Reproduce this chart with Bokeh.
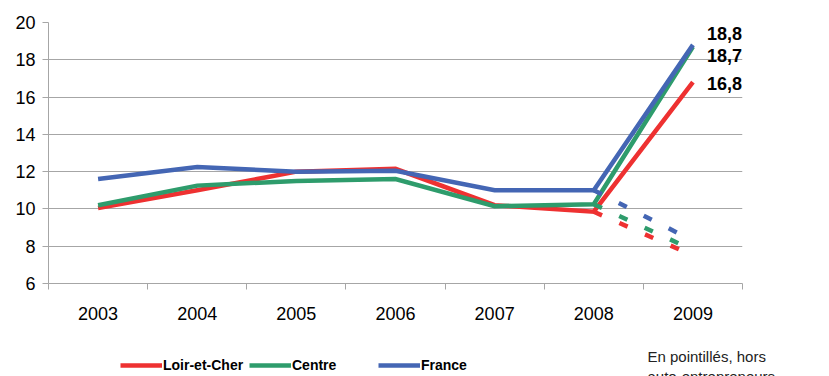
from bokeh.plotting import figure
from bokeh.models import (FixedTicker, Legend, LegendItem, Label, ColumnDataSource,
                          Range1d)
from bokeh.layouts import column
from bokeh.embed import file_html
from bokeh.resources import INLINE
from bokeh.core.properties import value

# ---- data ----
years = [2003, 2004, 2005, 2006, 2007, 2008, 2009]
year_labels = ["2003", "2004", "2005", "2006", "2007", "2008", "2009"]
loir_et_cher = [10.05, 11.0, 12.0, 12.15, 10.2, 9.85, 16.8]
centre = [10.2, 11.25, 11.5, 11.6, 10.15, 10.25, 18.7]
france = [11.6, 12.25, 12.0, 12.05, 11.0, 11.0, 18.8]
# dotted: hors auto-entrepreneurs
dash_years = [2008, 2009]
loir_hors = [9.85, 7.5]
centre_hors = [10.25, 7.8]
france_hors = [11.0, 8.3]
series_names = ["Loir-et-Cher", "Centre", "France"]
y_ticks = [6, 8, 10, 12, 14, 16, 18, 20]
note_lines = ["En pointillés, hors", "auto-entrepreneurs"]

RED = "#EE3131"
GREEN = "#2E9C6C"
BLUE = "#4466B4"
GRID = "#A6A6A6"
FONT = "Liberation Sans"

p = figure(width=829, height=330, output_backend="svg", toolbar_location=None,
           x_range=Range1d(years[0] - 0.5, years[-1] + 0.5),
           y_range=Range1d(y_ticks[0], y_ticks[-1]),
           min_border_left=48, min_border_right=87, min_border_top=22,
           min_border_bottom=47)
p.frame_align = False
p.outline_line_color = None
p.background_fill_color = "white"

# x axis
p.xaxis.ticker = FixedTicker(ticks=years,
                             minor_ticks=[y - 0.5 for y in years] + [years[-1] + 0.5])
p.xaxis.major_label_overrides = {y: l for y, l in zip(years, year_labels)}
p.xaxis.major_tick_in = 0
p.xaxis.major_tick_out = 0
p.xaxis.minor_tick_in = 0
p.xaxis.minor_tick_out = 6
p.xaxis.minor_tick_line_color = GRID
p.xaxis.axis_line_color = GRID
p.xaxis.major_label_standoff = 17
p.xaxis.major_label_text_font = FONT
p.xaxis.major_label_text_font_size = "18px"
p.xaxis.major_label_text_color = "black"

# y axis
p.yaxis.ticker = FixedTicker(ticks=y_ticks, minor_ticks=[])
p.yaxis.major_tick_in = 0
p.yaxis.major_tick_out = 6
p.yaxis.major_tick_line_color = GRID
p.yaxis.minor_tick_out = 0
p.yaxis.axis_line_color = GRID
p.yaxis.major_label_standoff = 7
p.yaxis.major_label_text_font = FONT
p.yaxis.major_label_text_font_size = "18px"
p.yaxis.major_label_text_color = "black"

p.xgrid.visible = False
p.ygrid.ticker = FixedTicker(ticks=y_ticks)
p.ygrid.grid_line_color = GRID
p.ygrid.grid_line_width = 1

# lines
colors = [RED, GREEN, BLUE]
solid = [loir_et_cher, centre, france]
dashed = [loir_hors, centre_hors, france_hors]
for vals, c in zip(solid, colors):
    p.line(years, vals, line_color=c, line_width=4.5, line_join="miter")
for vals, c in zip(dashed, colors):
    p.line(dash_years, vals, line_color=c, line_width=4.5, line_dash="9 19")

# end labels
end_vals = [france[-1], centre[-1], loir_et_cher[-1]]
src = ColumnDataSource(dict(
    x=[years[-1]] * 3,
    y=end_vals,
    t=[f"{v:.1f}".replace(".", ",") for v in end_vals],
    yo=[-11, 9, 1],
))
p.text(x="x", y="y", text="t", y_offset="yo", x_offset=14, source=src,
       text_baseline="middle", text_align="left",
       text_font=value(FONT), text_font_style="bold", text_font_size="18px",
       text_color="black")

# ---- bottom strip: legend + note ----
q = figure(width=829, height=46, output_backend="svg", toolbar_location=None,
           x_axis_type=None, y_axis_type=None,
           x_range=Range1d(years[0] - 0.5, years[-1] + 0.5),
           y_range=Range1d(100, 101),
           min_border=0, min_border_left=0, min_border_right=0,
           min_border_top=0, min_border_bottom=0)
q.frame_align = False
q.outline_line_color = None
q.xgrid.visible = False
q.ygrid.visible = False
legend_renderers = []
for vals, c in zip(solid, colors):
    # series drawn out of this strip's view; used only as legend keys
    legend_renderers.append(q.line(years, vals, line_color=c, line_width=4.5))

legend = Legend(items=[LegendItem(label=n, renderers=[r])
                       for n, r in zip(series_names, legend_renderers)],
                orientation="horizontal", location=(120, 1),
                glyph_width=42, glyph_height=20, label_standoff=1,
                label_width=86, label_height=20, spacing=0, padding=0, margin=0,
                border_line_color=None, background_fill_alpha=0,
                label_text_font=FONT, label_text_font_style="bold",
                label_text_font_size="14px", label_text_color="black")
q.add_layout(legend)

for i, line in enumerate(note_lines):
    q.add_layout(Label(x=647, y=20 - i * 20, x_units="screen", y_units="screen",
                       text=line, text_baseline="middle", text_align="left",
                       text_font=FONT, text_font_size="15px",
                       text_color="#222222"))

layout = column(p, q, spacing=0)
open("out.html", "w").write(file_html(layout, INLINE))
